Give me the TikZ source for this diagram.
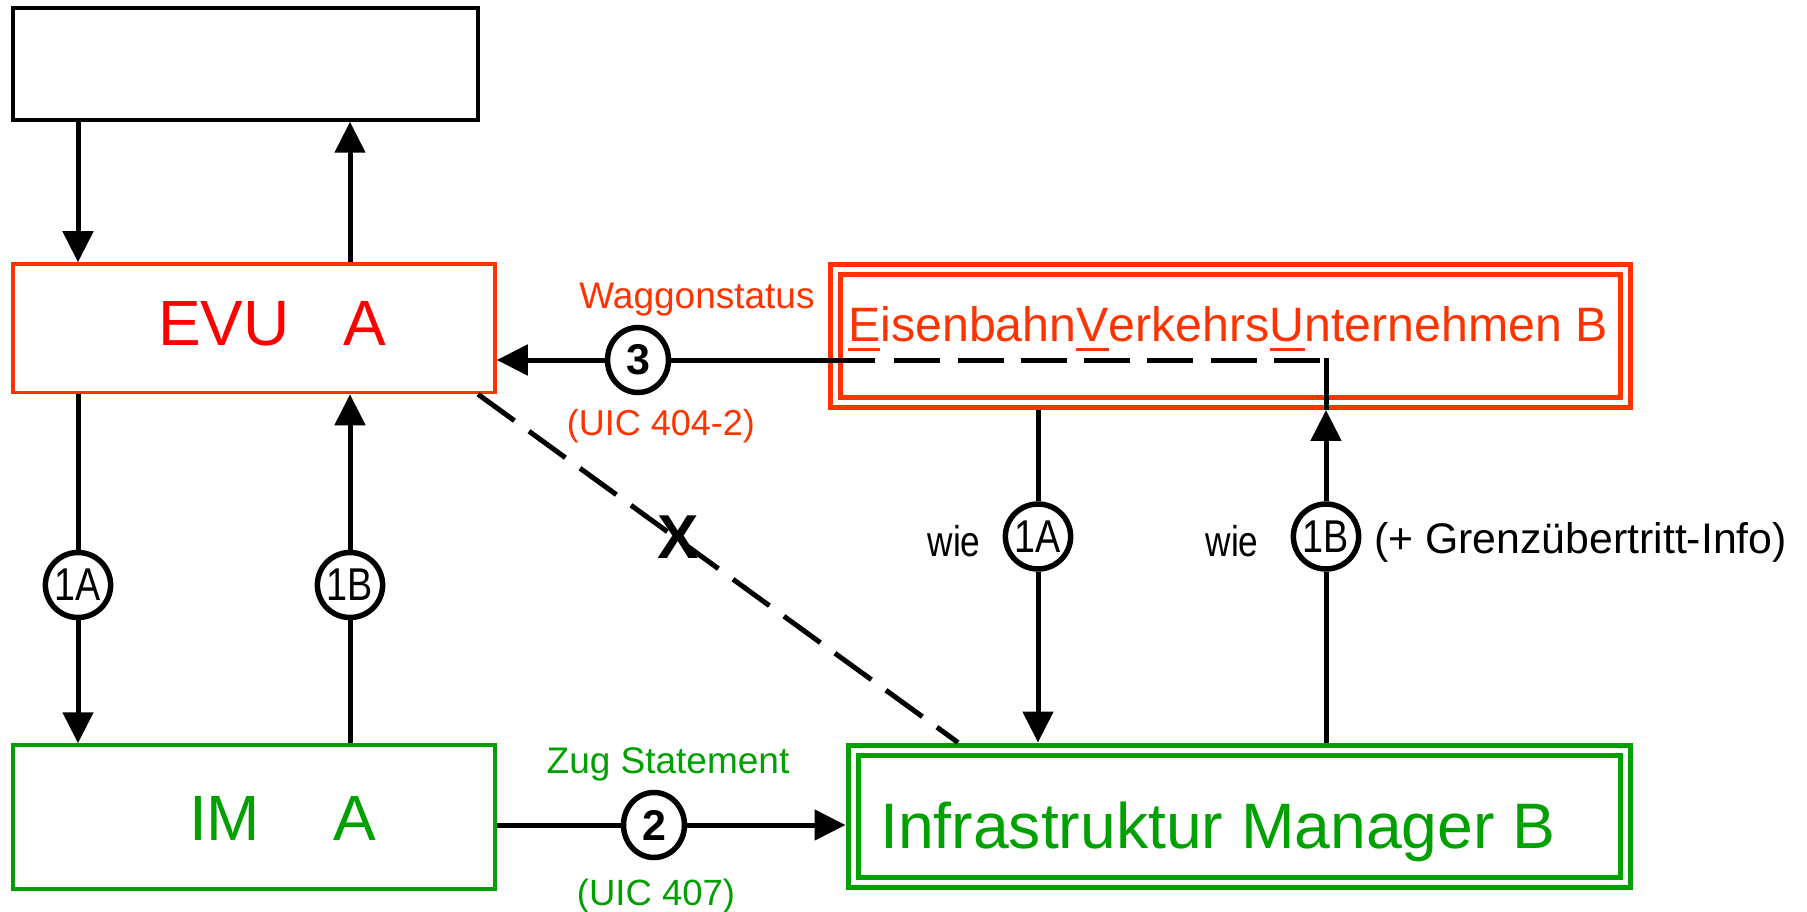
\documentclass[tikz,border=0pt]{standalone}
\usepackage{fontspec}
\setmainfont{Liberation Sans}
\newfontfamily\condfont[FakeStretch=0.82]{Liberation Sans}
\usetikzlibrary{arrows.meta,shapes.geometric}
\definecolor{evured}{RGB}{255,51,0}
\definecolor{purered}{RGB}{255,0,0}
\definecolor{imgreen}{RGB}{0,160,0}
\newcommand\ulchar[1]{\setbox0\hbox{#1}\rlap{\color{evured}\rule[-10pt]{\wd0}{3.5pt}}\box0}
\begin{document}
\begin{tikzpicture}[x=1pt,y=-1pt,
  conn/.style={line width=5pt,draw=black},
  arr/.style={conn,-{Triangle[length=31pt,width=30pt]}},
  dashln/.style={conn,dash pattern=on 45pt off 18pt},
  circ/.style={ellipse,draw=black,line width=5.5pt,fill=white,minimum width=61pt,minimum height=65pt,inner sep=0pt,font=\condfont\fontsize{46}{48}\selectfont},
  numcirc/.style={circ,font=\bfseries\fontsize{43}{46}\selectfont},
  box/.style={rectangle,line width=3.5pt,inner sep=0pt},
  dbl/.style={rectangle,line width=5pt,double=white,double distance=5pt,outer sep=7.5pt,inner sep=0pt},
  lbl/.style={inner sep=0pt,anchor=base}]
\useasboundingbox (0,0) rectangle (1807,912);
\fill[white] (0,0) rectangle (1807,912);

% boxes
\node[box,draw=black,minimum width=465pt,minimum height=112pt] (top) at (245.5,64) {};
\node[box,draw=evured,minimum width=482pt,minimum height=128.5pt] (evua) at (254,328.25) {};
\node[box,draw=imgreen,minimum width=482pt,minimum height=144pt] (ima) at (254,817) {};
\node[dbl,draw=evured,minimum width=789.5pt,minimum height=132.75pt] (evub) at (1230.25,336.1) {};
\node[dbl,draw=imgreen,minimum width=772pt,minimum height=132.75pt] (infb) at (1239,816.4) {};

% box texts
\node[inner sep=0pt,anchor=base west,font=\fontsize{64}{70}\selectfont,text=purered] (evuatext) at (158,345) {EVU\hspace{54pt}A};
\node[inner sep=0pt,anchor=base west,font=\fontsize{64}{70}\selectfont,text=imgreen] (imatext) at (189,840) {IM\hspace{73pt}A};
\node[inner sep=0pt,anchor=base west,font=\fontsize{48.3}{52}\selectfont,text=evured] (evubtext) at (848,341) {\ulchar{E}isenbahn\ulchar{V}erkehrs\ulchar{U}nternehmen B};
\node[inner sep=0pt,anchor=base west,font=\fontsize{64.3}{70}\selectfont,text=imgreen] (infbtext) at (880,848) {Infrastruktur Manager B};

% helper coordinates
\coordinate (xa) at (78,0);
\coordinate (xb) at (350,0);
\coordinate (xc) at (1038,0);
\coordinate (xd) at (1326,0);
\coordinate (xg1) at (478,0);
\coordinate (xg2) at (958,0);
\coordinate (ym) at (0,825);
\coordinate (d0) at (1326,357.5);
\coordinate (d1) at (1320,360);
\coordinate (d2) at (894,360);
\coordinate (d3) at (875,360);

% circles
\node[circ] (c1al) at (78,585) {1A};
\node[circ] (c1bl) at (350,585) {1B};
\node[circ] (c1ar) at (1038,536.5) {1A};
\node[circ] (c1br) at (1326,536.5) {1B};
\node[numcirc] (c3) at (638,360) {3};
\node[numcirc] (c2) at (654,825) {2};

% connectors
\draw[arr] (xa |- top.south) -- (xa |- evua.north);
\draw[arr] (xb |- evua.north) -- (xb |- top.south);
\draw[conn] (evua.south -| xa) -- (c1al);
\draw[arr] (c1al) -- (ima.north -| xa);
\draw[conn] (ima.north -| xb) -- (c1bl);
\draw[arr] (c1bl) -- (evua.south -| xb);
\draw[conn] (evub.south -| xc) -- (c1ar);
\draw[arr] (c1ar) -- (infb.north -| xc);
\draw[conn] (infb.north -| xd) -- (c1br);
\draw[arr] (c1br) -- (evub.south -| xd);
\draw[conn] (evub.south -| xd) -- (d0);
\draw[conn,dash pattern=on 46pt off 17.3pt] (d1) -- (d2);
\draw[conn] (d3) -- (c3);
\draw[arr] (c3) -- (evua.east |- c3);
\draw[conn] (ima.east |- ym) -- (c2);
\draw[arr] (c2) -- (infb.west |- ym);
\draw[dashln] (evua.south -| xg1) -- (infb.north -| xg2);

% labels
\node[lbl,font=\fontsize{37}{40}\selectfont,text=evured] (wag) at (697,308) {Waggonstatus};
\node[lbl,font=\fontsize{36}{40}\selectfont,text=evured] (uic404) at (661,435) {(UIC 404-2)};
\node[lbl,font=\fontsize{37}{40}\selectfont,text=imgreen] (zug) at (668,773) {Zug Statement};
\node[lbl,font=\fontsize{36.5}{40}\selectfont,text=imgreen] (uic407) at (656,905) {(UIC 407)};
\node[lbl,font=\condfont\fontsize{43}{46}\selectfont] (wie1) at (954,556) {wie};
\node[lbl,font=\condfont\fontsize{43}{46}\selectfont] (wie2) at (1232,556) {wie};
\node[inner sep=0pt,anchor=base west,font=\fontsize{42.8}{46}\selectfont] (grenz) at (1374,553) {(+ Grenzübertritt-Info)};
\node[inner sep=0pt,font=\bfseries\fontsize{62}{66}\selectfont] (xmark) at (678,537) {X};
\end{tikzpicture}
\end{document}
